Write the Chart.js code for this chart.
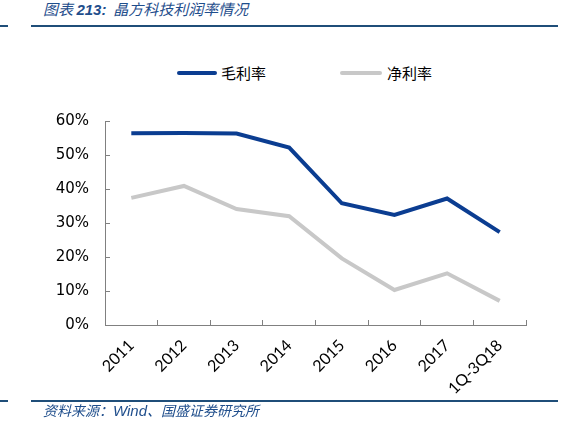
<!DOCTYPE html>
<html lang="zh">
<head>
  <meta charset="UTF-8" />
  <title>晶方科技利润率情况</title>
  <style>
    body { margin: 0; background: #fff; }
    .page { position: relative; width: 579px; height: 421px; overflow: hidden; font-family: "Noto Sans CJK SC", sans-serif; }
    .titulo { position: absolute; left: 43px; top: -2px; font-size: 15px; font-style: italic; color: #1F4E8C; white-space: nowrap; }
    .titulo b { font-family: "Liberation Sans", sans-serif; font-weight: bold; font-size: 15px; }
    .linha { position: absolute; height: 2px; background: #1F4E79; }
    .fonte { position: absolute; left: 43px; top: 400px; font-size: 14px; font-style: italic; color: #1F4E8C; white-space: nowrap; }
    .fonte b { font-family: "Liberation Sans", sans-serif; font-weight: normal; font-size: 15px; }
    .legenda { position: absolute; top: 62px; font-size: 15px; color: #000; }
    .legenda i { position: absolute; top: 9px; height: 4px; border-radius: 2px; }
    .legenda span { position: absolute; top: 0; white-space: nowrap; }
    canvas { position: absolute; left: 0; top: 0; }
  </style>
</head>
<body>
  <div class="page">
    <div class="titulo">图表 <b>213:</b>&nbsp;&nbsp;晶方科技利润率情况</div>
    <div class="linha" style="left:0;width:8px;top:25px"></div>
    <div class="linha" style="left:31px;width:527px;top:25px"></div>

    <div class="legenda">
      <i style="left:177px;width:40px;background:#0B3D91"></i>
      <span style="left:221px">毛利率</span>
      <i style="left:340px;width:42px;background:#C8C8C8"></i>
      <span style="left:387px">净利率</span>
    </div>

    <canvas id="graficoMargem" width="579" height="421"></canvas>

    <div class="linha" style="left:0;width:8px;top:400px"></div>
    <div class="linha" style="left:31px;width:527px;top:400px"></div>
    <div class="fonte">资料来源：<b>Wind</b>、国盛证券研究所</div>
  </div>

  <script src="https://cdn.jsdelivr.net/npm/chart.js@4.4.0/dist/chart.umd.min.js"></script>
  <script>
    // dados (%)
    const periodos = ['2011', '2012', '2013', '2014', '2015', '2016', '2017', '1Q-3Q18'];
    const margemBruta = [56.4, 56.5, 56.3, 52.2, 35.8, 32.4, 37.2, 27.3];
    const margemLiquida = [37.4, 40.9, 34.1, 32.0, 19.6, 10.3, 15.2, 7.1];
    const ticksY = [0, 10, 20, 30, 40, 50, 60];

    const corEixo = '#808080';

    new Chart(document.getElementById('graficoMargem'), {
      type: 'line',
      data: {
        labels: periodos,
        datasets: [
          {
            label: '毛利率',
            data: margemBruta,
            borderColor: '#0B3D91',
            backgroundColor: '#0B3D91',
            borderWidth: 4,
            pointRadius: 0,
            tension: 0
          },
          {
            label: '净利率',
            data: margemLiquida,
            borderColor: '#C8C8C8',
            backgroundColor: '#C8C8C8',
            borderWidth: 4,
            pointRadius: 0,
            tension: 0
          }
        ]
      },
      options: {
        responsive: false,
        animation: false,
        layout: { padding: { top: 121, left: 0, right: 53, bottom: 18 } },
        plugins: {
          legend: { display: false },
          tooltip: { enabled: false }
        },
        scales: {
          x: {
            offset: true,
            grid: { offset: true, drawOnChartArea: false, tickLength: -5, color: corEixo },
            border: { color: corEixo },
            ticks: {
              minRotation: 45,
              maxRotation: 45,
              padding: 16,
              color: '#000',
              font: { family: 'Lato', size: 16 }
            },
            afterFit: (s) => { s.height = 78; }
          },
          y: {
            min: ticksY[0],
            max: ticksY[ticksY.length - 1],
            grid: { drawOnChartArea: false, tickLength: -5, color: corEixo },
            border: { color: corEixo },
            afterBuildTicks: (s) => { s.ticks = ticksY.map(v => ({ value: v })); },
            ticks: {
              padding: 21,
              color: '#000',
              font: { family: 'DejaVu Sans', size: 15 },
              callback: (v) => v + '%'
            },
            afterFit: (s) => { s.width = 105; }
          }
        }
      }
    });
  </script>
</body>
</html>
